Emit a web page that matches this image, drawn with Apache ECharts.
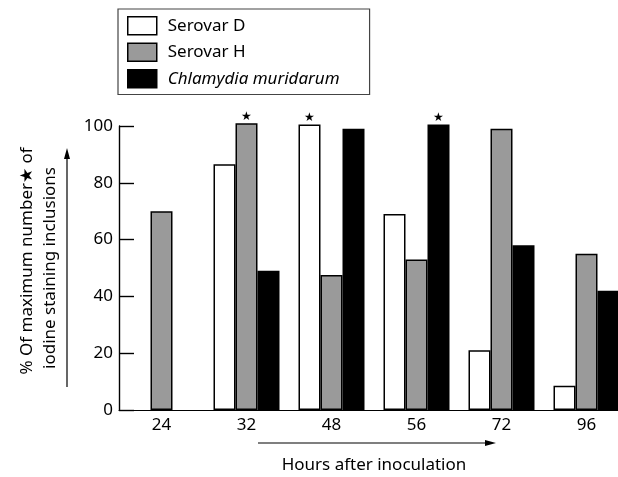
<!DOCTYPE html>
<html><head><meta charset="utf-8">
<script src="https://cdn.jsdelivr.net/npm/echarts@6/dist/echarts.min.js"></script>
<style>html,body{margin:0;padding:0;background:#fff}#c{width:618px;height:477px}</style>
</head><body><div id="c"></div>
<script>
const hours = ['24', '32', '48', '56', '72', '96'];
const serovarD = [0, 86.5, 100.5, 69, 21, 8.5];
const serovarH = [70, 101, 47.5, 53, 99, 55];
const muridarum = [0, 49, 99, 100.5, 58, 42];
const yTicks = [0, 20, 40, 60, 80, 100];
const starred = [['Serovar D', '48'], ['Serovar H', '32'], ['Chlamydia muridarum', '56']];

const FONT = 'Noto Sans';
function build(name, values) {
  return values.map((v, i) => {
    const isStar = starred.some(s => s[0] === name && s[1] === hours[i]);
    if (v === 0) return null;
    return isStar ? { value: v, label: { show: true, position: 'top', formatter: '★', distance: 1, fontSize: 12, color: '#000' } } : v;
  });
}
const chart = echarts.init(document.getElementById('c'));
const common = { type: 'bar', barWidth: 22, barGap: '0%', clip: false, animation: false };
chart.setOption({
  animation: false,
  textStyle: { fontFamily: FONT, color: '#000' },
  legend: {
    orient: 'vertical', left: 118, top: 9,
    padding: [7, 30, 6, 9],
    borderColor: '#444', borderWidth: 1.2,
    icon: 'rect',
    itemWidth: 29, itemHeight: 18, itemGap: 7,
    itemStyle: { borderColor: '#000', borderWidth: 1.5 },
    textStyle: { fontSize: 17, color: '#000', fontFamily: FONT, padding: [0, 0, 0, 6] },
    data: [
      { name: 'Serovar D' },
      { name: 'Serovar H' },
      { name: 'Chlamydia muridarum', textStyle: { fontStyle: 'italic' } }
    ]
  },
  grid: { left: 119, top: 126, width: 510, height: 284, outerBoundsMode: 'none', containLabel: false },
  xAxis: {
    type: 'category', data: hours,
    axisLine: { lineStyle: { color: '#000', width: 1.2 } },
    axisTick: { show: false },
    axisLabel: { fontSize: 17, color: '#000', margin: 7, fontFamily: FONT },
    name: 'Hours after inoculation', nameLocation: 'middle', nameGap: 47,
    nameTextStyle: { fontSize: 17, color: '#000', fontFamily: FONT }
  },
  yAxis: {
    type: 'value', min: 0, max: 100, interval: 20,
    axisLine: { show: true, lineStyle: { color: '#000', width: 1.4 } },
    axisTick: { show: true, inside: true, length: 15, lineStyle: { color: '#000', width: 1.4 } },
    splitLine: { show: false },
    axisLabel: { fontSize: 17, color: '#000', margin: 6, fontFamily: FONT,
      formatter: v => yTicks.includes(v) ? String(v) : '' }
  },
  graphic: [
    { type: 'text', x: 27, y: 261, rotation: Math.PI / 2,
      style: { text: '% Of maximum number★ of', fontSize: 17, fontFamily: FONT, fill: '#000', align: 'center', verticalAlign: 'middle' } },
    { type: 'text', x: 50, y: 268, rotation: Math.PI / 2,
      style: { text: 'iodine staining inclusions', fontSize: 17, fontFamily: FONT, fill: '#000', align: 'center', verticalAlign: 'middle' } },
    { type: 'line', shape: { x1: 67, y1: 387, x2: 67, y2: 156 }, style: { stroke: '#000', lineWidth: 1.2 } },
    { type: 'polygon', shape: { points: [[67, 148], [64, 159], [70, 159]] }, style: { fill: '#000' } },
    { type: 'line', shape: { x1: 258, y1: 443, x2: 488, y2: 443 }, style: { stroke: '#000', lineWidth: 1.2 } },
    { type: 'polygon', shape: { points: [[496, 443], [485, 440], [485, 446]] }, style: { fill: '#000' } }
  ],
  series: [
    Object.assign({ name: 'Serovar D', data: build('Serovar D', serovarD),
      itemStyle: { color: '#fff', borderColor: '#000', borderWidth: 1.5 } }, common),
    Object.assign({ name: 'Serovar H', data: build('Serovar H', serovarH),
      itemStyle: { color: '#9a9a9a', borderColor: '#000', borderWidth: 1.5 } }, common),
    Object.assign({ name: 'Chlamydia muridarum', data: build('Chlamydia muridarum', muridarum),
      itemStyle: { color: '#000', borderColor: '#000', borderWidth: 1.5 } }, common)
  ]
});
</script></body></html>
